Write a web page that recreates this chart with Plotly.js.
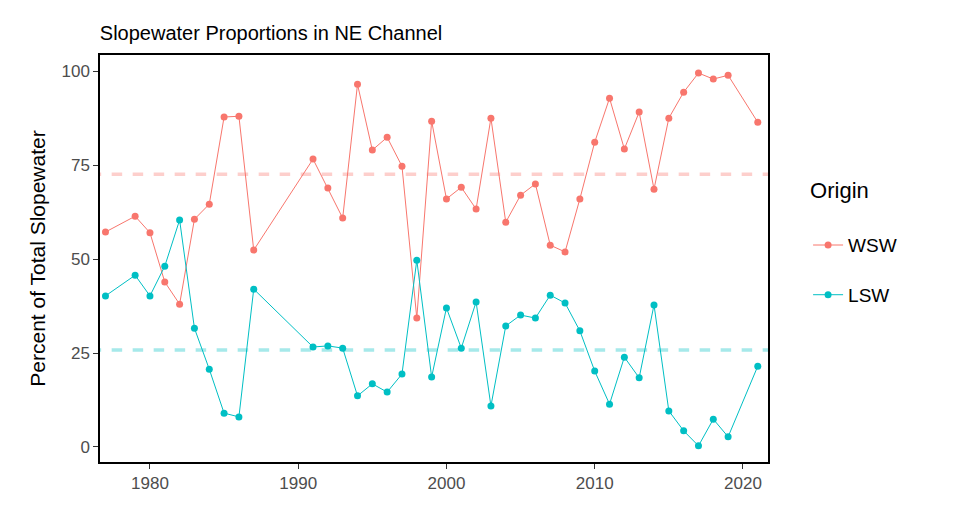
<html><head><script src="https://cdn.plot.ly/plotly-3.0.1.min.js"></script></head><body style="margin:0"><div id="c" style="width:960px;height:528px"></div><script>
const years=[1977,1979,1980,1981,1982,1983,1984,1985,1986,1987,1991,1992,1993,1994,1995,1996,1997,1998,1999,2000,2001,2002,2003,2004,2005,2006,2007,2008,2009,2010,2011,2012,2013,2014,2015,2016,2017,2018,2019,2021];
const wsw=[57.2,61.4,57,43.9,38,60.6,64.6,87.8,88,52.4,76.6,68.9,60.9,96.5,79,82.4,74.7,34.3,86.7,66,69.1,63.3,87.5,59.8,67,70,53.7,51.9,66,81.1,92.8,79.3,89.1,68.6,87.5,94.4,99.5,97.9,98.9,86.4];
const lsw=[40.2,45.7,40.2,48.1,60.4,31.6,20.7,9,8,42,26.6,26.9,26.3,13.6,16.8,14.6,19.4,49.7,18.6,37,26.3,38.6,10.9,32.2,35.1,34.3,40.4,38.3,30.9,20.2,11.4,23.9,18.4,37.8,9.6,4.3,0.3,7.4,2.7,21.5];
const wswMean=72.6, lswMean=25.8;
const red='#F8766D', teal='#00BFC4';
const traces=[
{x:[1976,2023],y:[wswMean,wswMean],mode:'lines',line:{color:'rgba(248,118,109,0.35)',width:3.5,dash:'dash'},showlegend:false,hoverinfo:'skip'},
{x:[1976,2023],y:[lswMean,lswMean],mode:'lines',line:{color:'rgba(0,191,196,0.35)',width:3.5,dash:'dash'},showlegend:false,hoverinfo:'skip'},
{x:years,y:wsw,name:'WSW',legendgroup:'a',mode:'lines+markers',line:{color:red,width:1},marker:{color:red,size:7}},
{x:years,y:lsw,name:'LSW',legendgroup:'b',mode:'lines+markers',line:{color:teal,width:1},marker:{color:teal,size:7}}];
Plotly.newPlot('c',traces,{width:960,height:528,paper_bgcolor:'white',plot_bgcolor:'white',
font:{family:'Arial, Liberation Sans',color:'#4d4d4d',size:17},
title:{text:'Slopewater Proportions in NE Channel',x:0.104,xanchor:'left',y:0.95,font:{size:20,color:'black'}},
margin:{l:100,r:192,t:55,b:66},
xaxis:{range:[1976.63,2021.69],tickvals:[1980,1990,2000,2010,2020],showgrid:false,zeroline:false,showline:true,mirror:true,linecolor:'black',linewidth:1.5,ticks:'outside',ticklen:5,tickcolor:'#333'},
yaxis:{range:[-4,104.3],tickvals:[0,25,50,75,100],showgrid:false,zeroline:false,showline:true,mirror:true,linecolor:'black',linewidth:1.5,ticks:'outside',ticklen:5,tickcolor:'#333',title:{text:'Percent of Total Slopewater',standoff:10,font:{size:21,color:'black'}}},
legend:{x:1.06,y:0.72,yanchor:'top',title:{text:'Origin<br> ',font:{size:22,color:'black'}},font:{size:19,color:'black'},tracegroupgap:22}
},{displayModeBar:false});
</script></body></html>
